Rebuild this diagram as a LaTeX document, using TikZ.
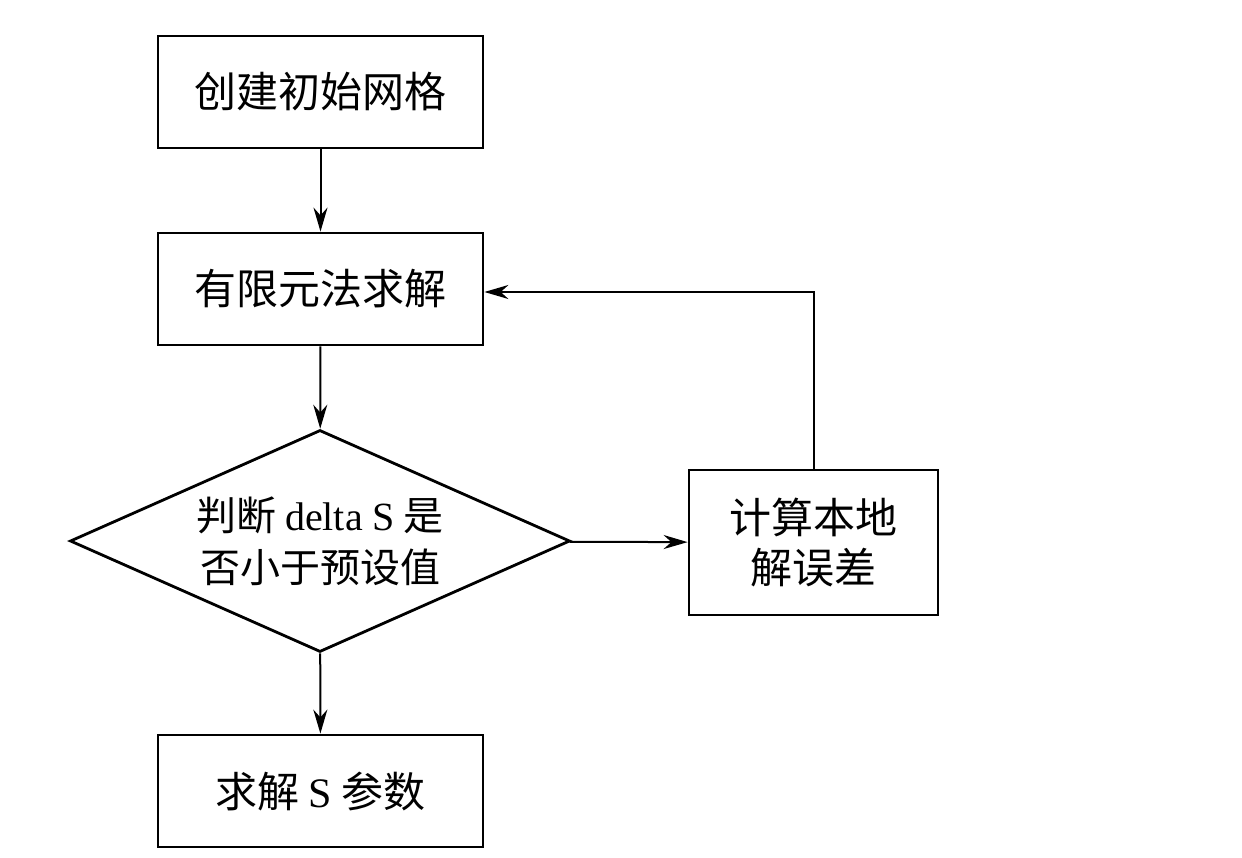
\documentclass[tikz,border=0pt]{standalone}
\usepackage{fontspec}
\setmainfont{Liberation Serif}
\newfontfamily\cjk{Noto Sans CJK SC}
\usetikzlibrary{shapes.geometric,arrows.meta}
\begin{document}
\begin{tikzpicture}[x=1pt,y=-1pt,
  box/.style={draw,line width=2.8pt,minimum width=325pt,minimum height=112pt,inner sep=0pt,font=\fontsize{42}{50}\selectfont\cjk,align=center},
  arr/.style={line width=2pt,-{Stealth[length=24pt,width=14pt]}}]
\useasboundingbox (0,0) rectangle (1242,858);
\node[box] (a) at (320.5,92) {创建初始网格};
\node[box] (b) at (320.5,289) {有限元法求解};
\node[draw,line width=2.8pt,diamond,minimum width=500pt,minimum height=222pt,inner sep=0pt,aspect=2.25,font=\fontsize{40}{52}\selectfont\cjk,align=center] (d) at (320,541) {判断 {\rmfamily delta S} 是\\否小于预设值};
\node[box,minimum width=249pt,minimum height=145pt] (e) at (813.5,542.5) {计算本地\\解误差};
\node[box] (f) at (320.5,791) {求解 {\rmfamily S} 参数};
\draw[arr] (a) -- (b);
\draw[arr] (b) -- (d);
\draw[arr] (d) -- (e);
\draw[arr] (d) -- (f);
\draw[arr] (e.north) |- (b.east |- 0,292);
\end{tikzpicture}
\end{document}
